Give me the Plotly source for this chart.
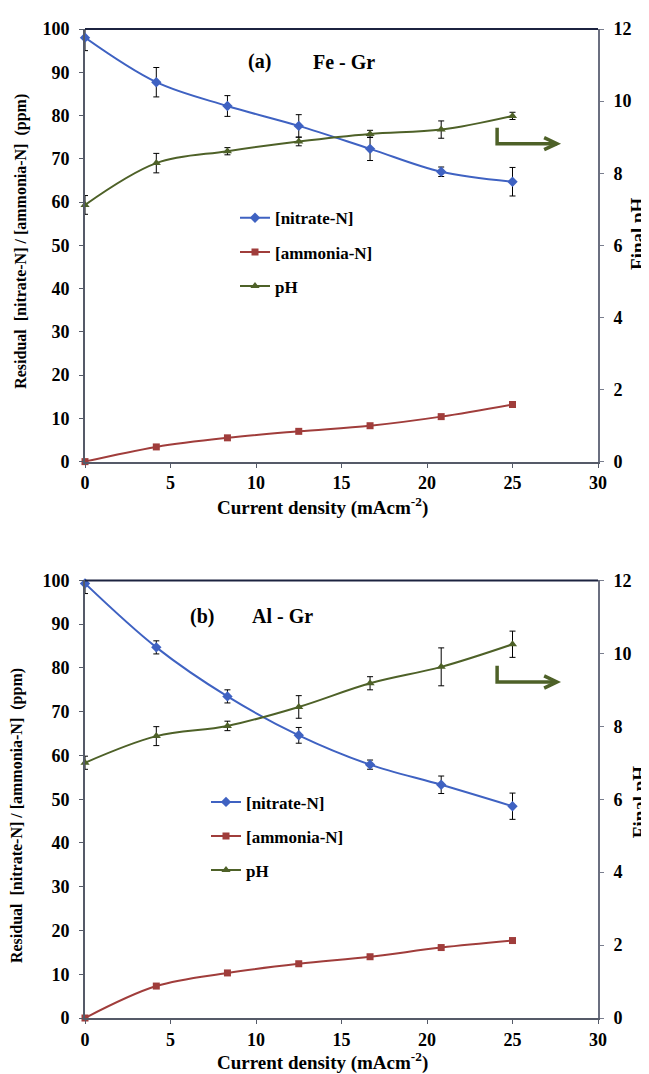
import plotly.graph_objects as go

# ---------------- data ----------------
current_density = [0, 4.17, 8.33, 12.5, 16.67, 20.83, 25]

fe_nitrate = [98.0, 87.7, 82.2, 77.6, 72.3, 67.0, 64.7]
fe_nitrate_err = [3.0, 3.4, 2.4, 2.6, 2.7, 1.1, 3.3]
fe_ammonia = [0.0, 3.4, 5.5, 7.0, 8.3, 10.4, 13.2]
fe_ph = [7.12, 8.28, 8.61, 8.88, 9.09, 9.21, 9.59]
fe_ph_err = [0.26, 0.27, 0.10, 0.12, 0.10, 0.24, 0.10]

al_nitrate = [99.3, 84.7, 73.5, 64.6, 57.9, 53.3, 48.4]
al_nitrate_err = [2.3, 1.5, 1.5, 1.8, 1.05, 2.0, 3.0]
al_ammonia = [0.0, 7.3, 10.3, 12.4, 14.0, 16.1, 17.7]
al_ph = [7.0, 7.73, 8.01, 8.53, 9.18, 9.63, 10.25]
al_ph_err = [0.18, 0.26, 0.13, 0.31, 0.18, 0.52, 0.36]

x_ticks = [0, 5, 10, 15, 20, 25, 30]
y_left_ticks = [0, 10, 20, 30, 40, 50, 60, 70, 80, 90, 100]
y_right_ticks = [0, 2, 4, 6, 8, 10, 12]

# ---------------- style ----------------
BLUE = "#3F62C2"
RED = "#A03D3B"
GREEN = "#4E6128"
FONT = "Liberation Serif"
AX = "#555a68"

# page is shown with an 8px body margin; work in page pixels and convert
OFF = 8
W, H = 649 - OFF, 1074 - OFF
PL, PR, PT, PB = 85, 598, 19, 1018   # plot-area edges in page pixels

fig = go.Figure()

def err(arr):
    return dict(type="data", array=arr, visible=True, color="black", thickness=1, width=3)

def add_panel(xa, ya_left, ya_right, nitrate, nerr, ammonia, ph, pherr, legend):
    fig.add_trace(go.Scatter(x=current_density, y=nitrate, error_y=err(nerr), name="[nitrate-N]",
                             mode="lines+markers", line=dict(color=BLUE, width=2, shape="spline", smoothing=1),
                             marker=dict(symbol="diamond", size=8, color=BLUE), xaxis=xa, yaxis=ya_left,
                             legend=legend, legendgroup=legend + "n", cliponaxis=False))
    fig.add_trace(go.Scatter(x=current_density, y=ammonia, name="[ammonia-N]",
                             mode="lines+markers", line=dict(color=RED, width=2, shape="spline", smoothing=1),
                             marker=dict(symbol="square", size=7, color=RED), xaxis=xa, yaxis=ya_left,
                             legend=legend, legendgroup=legend + "a", cliponaxis=False))
    fig.add_trace(go.Scatter(x=current_density, y=ph, error_y=err(pherr), name="pH",
                             mode="lines+markers", line=dict(color=GREEN, width=2, shape="spline", smoothing=1),
                             marker=dict(symbol="triangle-up", size=8, color=GREEN), xaxis=xa, yaxis=ya_right,
                             legend=legend, legendgroup=legend + "p", cliponaxis=False))

add_panel("x", "y", "y2", fe_nitrate, fe_nitrate_err, fe_ammonia, fe_ph, fe_ph_err, "legend")
add_panel("x2", "y3", "y4", al_nitrate, al_nitrate_err, al_ammonia, al_ph, al_ph_err, "legend2")

tickfont = dict(family=FONT, size=18, color="black", weight="bold")

def xaxis_cfg(anchor):
    return dict(range=[0, 30], tickvals=x_ticks, ticks="outside", ticklen=4, tickcolor=AX,
                showline=True, linecolor=AX, linewidth=2, showgrid=False, zeroline=False,
                tickfont=tickfont, anchor=anchor, domain=[0, 1])

def yleft_cfg(domain, anchor):
    return dict(range=[0, 100], tickvals=y_left_ticks, ticks="outside", ticklen=4, tickcolor=AX,
                showline=True, linecolor=AX, linewidth=2, showgrid=False, zeroline=False,
                tickfont=tickfont, domain=domain, anchor=anchor, ticklabelstandoff=6)

def yright_cfg(overlay, anchor):
    return dict(range=[0, 12], tickvals=y_right_ticks, ticks="outside", ticklen=4, tickcolor="#7a7e8e",
                showline=True, linecolor="#6b6f80", linewidth=2, showgrid=False, zeroline=False,
                tickfont=tickfont, side="right", overlaying=overlay, anchor=anchor, ticklabelstandoff=6)

PH_ = PB - PT
def px_x(p):
    return (p - PL) / (PR - PL)
def px_y(p):
    return (PB - p) / PH_

top_dom = [px_y(456), 1.0]
bot_dom = [0.0, px_y(576)]

legfont = dict(family=FONT, size=17, color="black", weight="bold")

fig.update_layout(
    width=W, height=H,
    margin=dict(l=PL - OFF, r=W - (PR - OFF), t=PT - OFF, b=H - (PB - OFF)),
    paper_bgcolor="white", plot_bgcolor="white",
    font=dict(family=FONT, color="black"),
    xaxis=xaxis_cfg("y"),
    yaxis=yleft_cfg(top_dom, "x"),
    yaxis2=yright_cfg("y", "x"),
    xaxis2=xaxis_cfg("y3"),
    yaxis3=yleft_cfg(bot_dom, "x2"),
    yaxis4=yright_cfg("y3", "x2"),
    legend=dict(x=px_x(235), y=px_y(192), xanchor="left", yanchor="top", font=legfont,
                traceorder="grouped", tracegroupgap=9, bgcolor="rgba(0,0,0,0)", itemwidth=30),
    legend2=dict(x=px_x(206), y=px_y(782), xanchor="left", yanchor="top", font=legfont,
                 traceorder="grouped", tracegroupgap=9, bgcolor="rgba(0,0,0,0)", itemwidth=30),
    showlegend=True,
)

# top border lines of plot areas
for yref in ["y domain", "y3 domain"]:
    fig.add_shape(type="line", xref="x domain", yref=yref, x0=0, x1=1, y0=1, y1=1,
                  line=dict(color="#1c2340", width=2))

# L-shaped arrows pointing to the pH axis
def add_arrow(xref, yref, xs, y_top, y_corner, x_end):
    path = f"M {xs},{y_top} L {xs},{y_corner} L {x_end},{y_corner}"
    fig.add_shape(type="path", xref=xref, yref=yref, path=path,
                  line=dict(color=GREEN, width=3.5))
    fig.add_shape(type="path", xref=xref, yref=yref,
                  path=f"M {x_end-0.75},{y_corner+1.4} L {x_end},{y_corner} L {x_end-0.75},{y_corner-1.4}",
                  line=dict(color=GREEN, width=3.5))

add_arrow("x", "y", 24.1, 77.2, 73.5, 27.6)
add_arrow("x2", "y3", 24.1, 80.5, 76.8, 27.6)

ann_font = dict(family=FONT, size=20, color="black", weight="bold")
title_font = dict(family=FONT, size=19, color="black", weight="bold")
ph_font = dict(family=FONT, size=19, color="black", weight="bold")
ytitle_font = dict(family=FONT, size=16, color="black", weight="bold")

annotations = [
    dict(text="(a)", x=259, y=52),
    dict(text="Fe - Gr", x=344, y=52),
    dict(text="(b)", x=202, y=612),
    dict(text="Al - Gr", x=282, y=612),
]
for a in annotations:
    fig.add_annotation(text=a["text"], xref="paper", yref="paper",
                       x=px_x(a["x"]), y=px_y(a["y"]),
                       showarrow=False, font=ann_font, xanchor="center", yanchor="middle")

# axis titles
for ypix in [501, 1062]:
    fig.add_annotation(text="Current density (mAcm<sup>-2</sup>)", xref="paper", yref="paper",
                       x=px_x(322), y=px_y(ypix), showarrow=False, font=title_font,
                       xanchor="center", yanchor="middle")

for xpix, ypix in [(21, 234), (17, 814)]:
    fig.add_annotation(text="Residual  [nitrate-N] / [ammonia-N]  (ppm)", xref="paper", yref="paper",
                       x=px_x(xpix), y=px_y(ypix), showarrow=False, font=ytitle_font,
                       textangle=-90, xanchor="center", yanchor="middle")

for xpix, ypix in [(638, 226), (639, 800)]:
    fig.add_annotation(text="Final pH", xref="paper", yref="paper",
                       x=px_x(xpix), y=px_y(ypix), showarrow=False, font=ph_font,
                       textangle=-90, xanchor="center", yanchor="middle")

fig.write_html("out.html")
